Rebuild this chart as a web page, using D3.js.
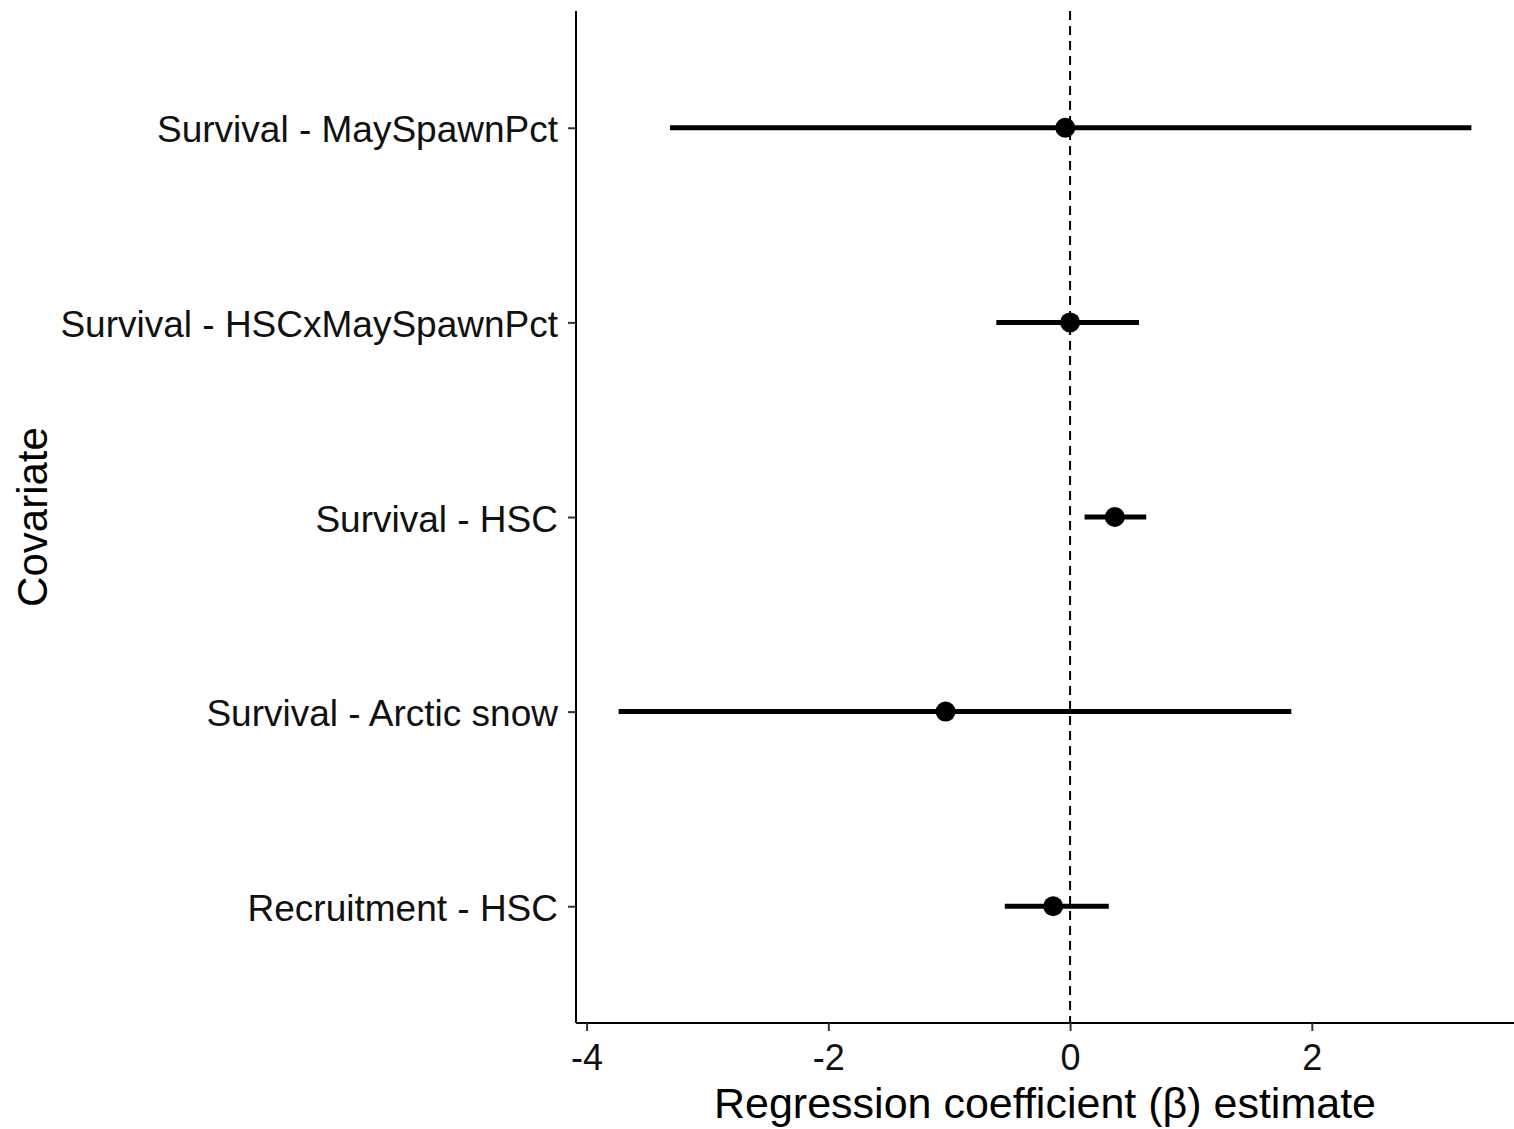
<!DOCTYPE html>
<html>
<head>
<meta charset="utf-8">
<script src="https://cdn.jsdelivr.net/npm/d3@7"></script>
<style>
  html, body { margin: 0; padding: 0; background: #fff; }
  svg { display: block; }
  text { font-family: "Liberation Sans", Arial, Helvetica, sans-serif; }
</style>
</head>
<body>
<svg id="chart" width="1514" height="1129"></svg>
<script>
// Data (top to bottom as drawn)
const categories = [
  "Survival - MaySpawnPct",
  "Survival - HSCxMaySpawnPct",
  "Survival - HSC",
  "Survival - Arctic snow",
  "Recruitment - HSC"
];
const estimates = [-0.04, 0.00, 0.37, -1.03, -0.14];
const lower     = [-3.31, -0.61, 0.12, -3.735, -0.54];
const upper     = [3.32, 0.57, 0.63, 1.83, 0.32];
const xTicks    = [-4, -2, 0, 2];
const xTitle = "Regression coefficient (\u03B2) estimate";
const yTitle = "Covariate";

const svg = d3.select("#chart");
const W = 1514, H = 1129;
const m = { left: 576, top: 11, right: 0, bottom: 106 };
const pw = W - m.left - m.right;
const ph = H - m.top - m.bottom;

// x scale with ggplot-like 5% expansion
const lo = d3.min(lower), hi = d3.max(upper);
const pad = (hi - lo) * 0.05;
const x = d3.scaleLinear().domain([lo - pad, hi + pad]).range([0, pw]);

// y discrete scale with 0.6 expansion
const y = d3.scalePoint().domain(categories).range([0, ph]).padding(0.6);

const g = svg.append("g").attr("transform", `translate(${m.left},${m.top})`);

// zero reference line
g.append("line")
  .attr("x1", x(0)).attr("x2", x(0))
  .attr("y1", 0).attr("y2", ph)
  .attr("stroke", "#000").attr("stroke-width", 2)
  .attr("stroke-dasharray", "9,6");

const rows = categories.map((c, i) => ({ c, est: estimates[i], lo: lower[i], hi: upper[i] }));

// error bars
g.selectAll("line.ci").data(rows).enter().append("line")
  .attr("class", "ci")
  .attr("x1", d => x(d.lo)).attr("x2", d => x(d.hi))
  .attr("y1", d => y(d.c)).attr("y2", d => y(d.c))
  .attr("stroke", "#000").attr("stroke-width", 5);

// points
g.selectAll("circle.pt").data(rows).enter().append("circle")
  .attr("class", "pt")
  .attr("cx", d => x(d.est)).attr("cy", d => y(d.c))
  .attr("r", 10).attr("fill", "#000");

// axes
const xAxis = d3.axisBottom(x).tickValues(xTicks).tickSize(8).tickPadding(8)
  .tickFormat(d => d);
const gx = g.append("g").attr("transform", `translate(0,${ph})`).call(xAxis);
gx.select(".domain").attr("stroke", "#000").attr("stroke-width", 2)
  .attr("d", `M0,0H${pw}`);
gx.selectAll(".tick line").attr("stroke", "#333").attr("stroke-width", 2);
gx.selectAll(".tick text").attr("font-size", 36).attr("fill", "#111")
  .attr("dy", "0.85em");

const yAxis = d3.axisLeft(y).tickSize(8).tickPadding(10);
const gy = g.append("g").call(yAxis);
gy.select(".domain").attr("stroke", "#000").attr("stroke-width", 2)
  .attr("d", `M0,0V${ph}`);
gy.selectAll(".tick line").attr("stroke", "#333").attr("stroke-width", 2);
gy.selectAll(".tick text").attr("font-size", 37).attr("fill", "#111")
  .attr("dy", "0.38em");

// titles
svg.append("text")
  .attr("x", m.left + pw / 2).attr("y", 1118)
  .attr("text-anchor", "middle").attr("font-size", 43).attr("fill", "#000")
  .text(xTitle);

svg.append("text")
  .attr("transform", `translate(47,${m.top + ph / 2}) rotate(-90)`)
  .attr("text-anchor", "middle").attr("font-size", 42).attr("fill", "#000")
  .text(yTitle);
</script>
</body>
</html>
